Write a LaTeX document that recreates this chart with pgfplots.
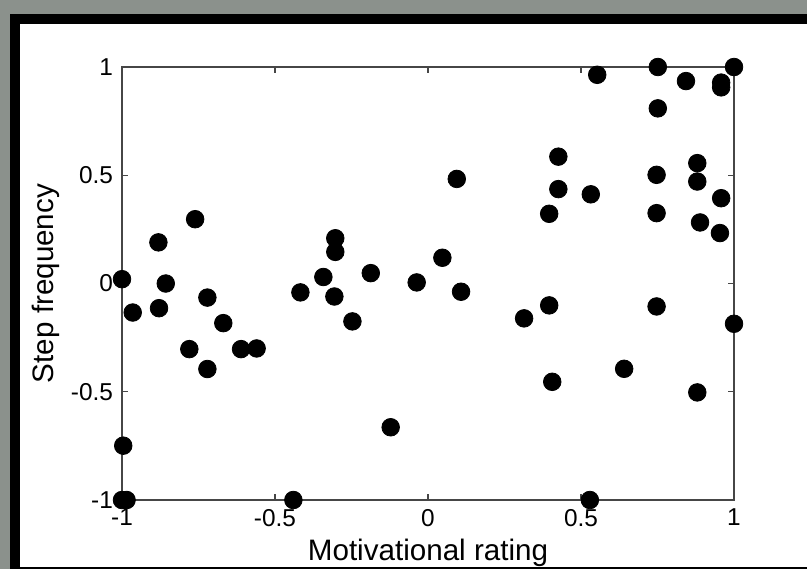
\documentclass[border=0pt]{standalone}
\usepackage{pgfplots}
\pgfplotsset{compat=1.18}
\usepackage{fontspec}
\setmainfont{Liberation Sans}
\definecolor{bggray}{RGB}{139,145,140}
\definecolor{axgray}{RGB}{70,70,70}
\begin{document}
\begin{tikzpicture}
\useasboundingbox (0,0) rectangle (403.5pt,284.5pt);
\fill[bggray] (0,0) rectangle (403.5pt,284.5pt);
\fill[black] (5pt,0) rectangle (403.5pt,277.5pt);
\fill[white] (10pt,1pt) rectangle (403.5pt,272.5pt);
\begin{axis}[
  at={(61pt,34.5pt)}, anchor=south west,
  scale only axis, width=306pt, height=216.5pt,
  xmin=-1, xmax=1, ymin=-1, ymax=1,
  clip=false,
  axis line style={axgray, line width=1pt},
  every tick/.style={axgray, line width=0.6pt},
  major tick length=3pt,
  tick align=inside,
  xtick={-1,-0.5,0,0.5,1}, xticklabels={-1,-0.5,0,0.5,1},
  ytick={-1,-0.5,0,0.5,1}, yticklabels={-1,-0.5,0,0.5,1},
  ticklabel style={font=\fontsize{12.2}{14}\selectfont, text=black},
  xticklabel style={yshift=-1pt},
  yticklabel style={xshift=-1pt},
  xlabel={Motivational rating},
  ylabel={Step frequency},
  label style={font=\fontsize{14.8}{17}\selectfont},
  xlabel style={at={(axis description cs:0.5,-0.1386)}, anchor=base},
  ylabel style={at={(axis description cs:-0.1127,0.5)}, anchor=base},
]
\addplot[only marks, mark=*, mark size=4.4pt, mark options={fill=black, draw=black}] coordinates {
(-1,0.02) (-0.965,-0.134) (-0.881,0.19) (-0.857,0.0) (-0.879,-0.114)
(-0.761,0.297) (-0.721,-0.065) (-0.780,-0.303) (-0.721,-0.395) (-0.669,-0.183)
(-0.611,-0.303) (-0.560,-0.300) (-0.417,-0.041) (-0.342,0.030) (-0.303,0.209)
(-0.303,0.146) (-0.306,-0.060) (-0.247,-0.175) (-0.187,0.048) (-0.037,0.005)
(-0.996,-0.749) (-1,-1) (-0.985,-1) (-0.44,-1) (-0.122,-0.664)
(0.094,0.483) (0.047,0.119) (0.108,-0.038)
(0.553,0.964) (0.751,1.0) (0.843,0.935) (0.958,0.928) (0.958,0.906) (1.0,1.0)
(0.751,0.809) (0.426,0.586) (0.426,0.436) (0.532,0.412) (0.396,0.322)
(0.747,0.502) (0.747,0.325) (0.880,0.556) (0.880,0.471) (0.958,0.394)
(0.889,0.282) (0.954,0.233)
(0.314,-0.161) (0.396,-0.101) (0.747,-0.106) (1.0,-0.186) (0.406,-0.454)
(0.641,-0.394) (0.880,-0.503) (0.529,-1.0)
};
\end{axis}
\end{tikzpicture}
\end{document}
